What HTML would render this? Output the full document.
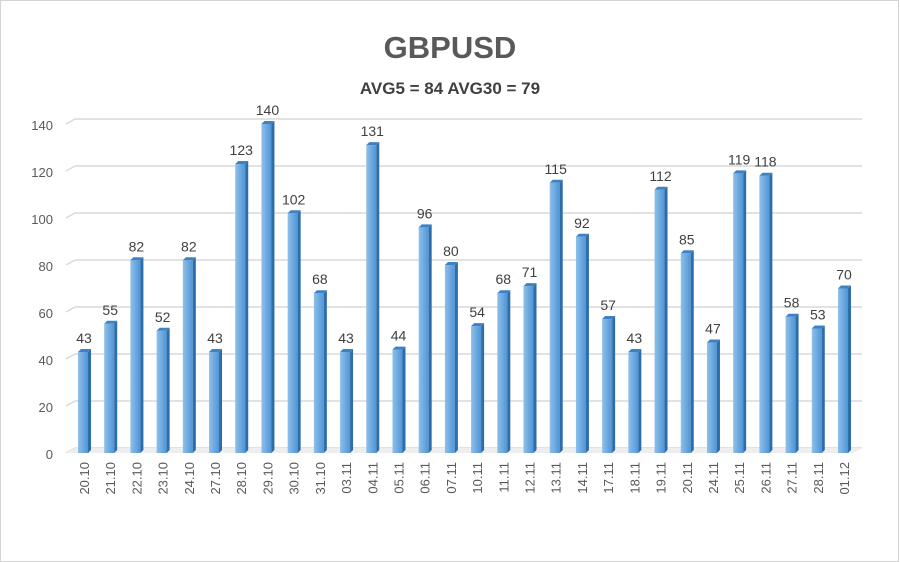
<!DOCTYPE html>
<html><head><style>
body{margin:0;background:#fff;}
svg{display:block;font-family:"Liberation Sans",sans-serif;}
</style></head><body>
<svg width="900" height="562" viewBox="0 0 900 562">
<rect x="0.5" y="0.5" width="898" height="561" fill="#fff" stroke="#d4d4d4"/>
<text x="450" y="58" text-anchor="middle" font-size="31" font-weight="bold" fill="#595959">GBPUSD</text>
<text x="450" y="94" text-anchor="middle" font-size="17" font-weight="bold" fill="#404040">AVG5 = 84 AVG30 = 79</text>
<g id="g"></g>
</svg>
<script>
const d=[["20.10",43],["21.10",55],["22.10",82],["23.10",52],["24.10",82],["27.10",43],["28.10",123],["29.10",140],["30.10",102],["31.10",68],["03.11",43],["04.11",131],["05.11",44],["06.11",96],["07.11",80],["10.11",54],["11.11",68],["12.11",71],["13.11",115],["14.11",92],["17.11",57],["18.11",43],["19.11",112],["20.11",85],["24.11",47],["25.11",119],["26.11",118],["27.11",58],["28.11",53],["01.12",70]];
let s='';const k=2.35,base=453,gb=448;
for(let i=0;i<=7;i++){const y=gb-i*20*k;s+=`<line x1="75" y1="${y}" x2="862" y2="${y}" stroke="#d9d9d9" stroke-width="1.5"/><line x1="66" y1="${y+5}" x2="75" y2="${y}" stroke="#d9d9d9" stroke-width="1.5"/><text x="53" y="${y+11}" text-anchor="end" font-size="13" fill="#595959">${i*20}</text>`;}
s+=`<polygon points="66,453 75,448 862,448 853,453" fill="#eee"/>`;
s+=`<defs><linearGradient id="f" x1="0" x2="1"><stop offset="0" stop-color="#8ec0ea"/><stop offset="1" stop-color="#4f95d6"/></linearGradient></defs>`;
const n=d.length,step=(838-78)/(n-1);
d.forEach((e,i)=>{const x=78+i*step,h=e[1]*k,t=base-h;
s+=`<rect x="${x}" y="${t}" width="10" height="${h}" fill="url(#f)"/>`;
s+=`<polygon points="${x+10},${t} ${x+13},${t-3} ${x+13},${base-3} ${x+10},${base}" fill="#2f6da8"/>`;
s+=`<polygon points="${x},${t} ${x+3},${t-3} ${x+13},${t-3} ${x+10},${t}" fill="#3f82c4"/>`;
s+=`<text x="${x+6}" y="${t-9}" text-anchor="middle" font-size="14" fill="#404040">${e[1]}</text>`;
s+=`<text transform="translate(${x+11},${462}) rotate(-90)" text-anchor="end" font-size="13" fill="#595959">${e[0]}</text>`;});
document.getElementById('g').innerHTML=s;
</script>
</body></html>
